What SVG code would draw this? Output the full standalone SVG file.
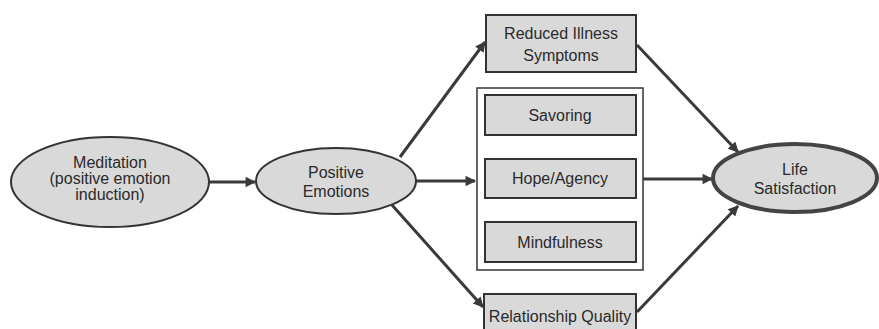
<svg xmlns="http://www.w3.org/2000/svg" width="879" height="329" viewBox="0 0 879 329">
<defs>
<marker id="ah" viewBox="0 0 10 10" refX="9" refY="5" markerWidth="4" markerHeight="3.5" orient="auto" markerUnits="strokeWidth">
<path d="M0,0 L10,5 L0,10 z" fill="#3a3a3a"/>
</marker>
<style>
.node{fill:#d9d9d9;stroke:#333;stroke-width:2}
.thick{stroke-width:4;stroke:#444}
.frame{fill:#fff;stroke:#333;stroke-width:1.5}
.t{font-family:"Liberation Sans",Arial,sans-serif;font-size:16px;fill:#2a2a2a;text-anchor:middle}
.c{stroke:#3a3a3a;stroke-width:3;fill:none;marker-end:url(#ah)}
</style>
</defs>
<rect width="879" height="329" fill="#fff"/>
<g id="connectors">
<line class="c" x1="209" y1="182" x2="255" y2="182"/>
<line class="c" x1="415" y1="181" x2="475" y2="181"/>
<line class="c" x1="400" y1="157" x2="485" y2="42"/>
<line class="c" x1="392" y1="205" x2="483" y2="307"/>
<line class="c" x1="637" y1="45" x2="738" y2="152"/>
<line class="c" x1="643" y1="179" x2="712" y2="179"/>
<line class="c" x1="637" y1="312" x2="738" y2="206"/>
</g>
<g id="meditation">
<ellipse class="node" cx="110" cy="182" rx="99" ry="45"/>
<text class="t" x="110" y="168">Meditation</text>
<text class="t" x="110" y="184">(positive emotion</text>
<text class="t" x="110" y="200">induction)</text>
</g>
<g id="positive-emotions">
<ellipse class="node" cx="336" cy="181" rx="80" ry="33"/>
<text class="t" x="336" y="178">Positive</text>
<text class="t" x="336" y="197">Emotions</text>
</g>
<g id="reduced-illness">
<rect class="node" x="486" y="15" width="150" height="57"/>
<text class="t" x="561" y="39">Reduced Illness</text>
<text class="t" x="561" y="61">Symptoms</text>
</g>
<g id="mediators">
<rect class="frame" x="477" y="88" width="166" height="182"/>
</g>
<g id="savoring">
<rect class="node" x="485" y="95" width="151" height="40"/>
<text class="t" x="560" y="121">Savoring</text>
</g>
<g id="hope-agency">
<rect class="node" x="485" y="159" width="151" height="39"/>
<text class="t" x="560" y="184">Hope/Agency</text>
</g>
<g id="mindfulness">
<rect class="node" x="485" y="222" width="151" height="40"/>
<text class="t" x="560" y="248">Mindfulness</text>
</g>
<g id="relationship-quality">
<rect class="node" x="484" y="294" width="152" height="42"/>
<text class="t" x="560" y="322">Relationship Quality</text>
</g>
<g id="life-satisfaction">
<ellipse class="node thick" cx="795" cy="178" rx="82" ry="34"/>
<text class="t" x="795" y="175">Life</text>
<text class="t" x="795" y="194">Satisfaction</text>
</g>
</svg>
